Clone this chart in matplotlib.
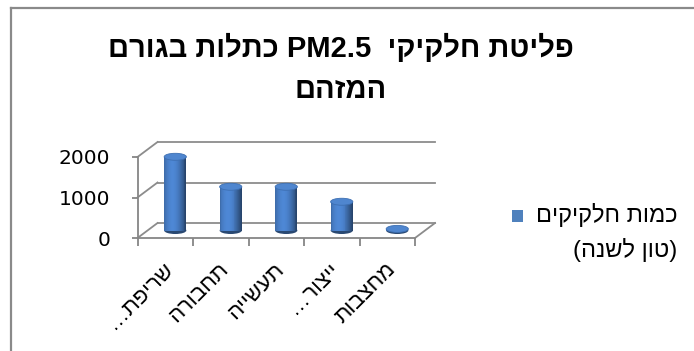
import re
import numpy as np
import matplotlib
matplotlib.use("Agg")
import matplotlib.pyplot as plt
from matplotlib.patches import Ellipse, Rectangle
from matplotlib.lines import Line2D

plt.rcParams['font.family'] = ['Liberation Sans', 'DejaVu Sans']

# ---- data ----
categories = ["שריפת…", "תחבורה", "תעשייה", "ייצור…", "מחצבות"]
values = [1820, 1080, 1080, 710, 40]
yticks = [0, 1000, 2000]
title_lines = ["פליטת חלקיקי  PM2.5 כתלות בגורם", "המזהם"]
legend_lines = ["כמות חלקיקים", "(טון לשנה)"]

MIRROR = str.maketrans('()[]', ')(][')


def visual(s):
    """Simple bidi: convert logical RTL text into visual left-to-right order."""
    runs = re.findall(r'[A-Za-z0-9][A-Za-z0-9.]*|[^A-Za-z0-9]+', s)
    out = []
    for r in reversed(runs):
        if re.match(r'[A-Za-z0-9]', r):
            out.append(r)
        else:
            out.append(r[::-1].translate(MIRROR))
    return ''.join(out)


W, H = 694, 351
fig = plt.figure(figsize=(W / 100, H / 100), dpi=100)
fig.patch.set_facecolor('white')

# outer chart border (left & top visible)
fig.add_artist(Line2D([10.5 / W, 10.5 / W], [0, 1 - 7.5 / H], color='#8a8a8a', lw=1.6,
                      transform=fig.transFigure))
fig.add_artist(Line2D([10.5 / W, 1], [1 - 7.5 / H, 1 - 7.5 / H], color='#8a8a8a', lw=1.6,
                      transform=fig.transFigure))

# front plane axes
ax = fig.add_axes([137.5 / W, (H - 238) / H, 277.5 / W, 81 / H])
n = len(categories)
ax.set_xlim(0, n)
ax.set_ylim(0, 2000)
for s in ['top', 'right']:
    ax.spines[s].set_visible(False)
ax.spines['left'].set_color('#868686')
ax.spines['bottom'].set_color('#868686')
ax.spines['left'].set_linewidth(1.3)
ax.spines['bottom'].set_linewidth(1.3)
ax.set_xticks(np.arange(n + 1))
ax.set_xticklabels([])
ax.set_yticks(yticks)
ax.set_yticklabels([str(v) for v in yticks], fontsize=14.5, family='DejaVu Sans')
ax.tick_params(axis='x', length=6, width=1.3, color='#868686')
ax.tick_params(axis='y', length=4, width=1.3, color='#868686', pad=15.5)
ax.patch.set_alpha(0)

gc = '#8c8c8c'
dx = 20 / 55.5
dy = 370.0
# back wall gridlines + side wall diagonals
for v in yticks:
    ax.plot([dx, n + dx], [v + dy, v + dy], color=gc, lw=1.3, clip_on=False, zorder=1)
    ax.plot([0, dx], [v, v + dy], color=gc, lw=1.3, clip_on=False, zorder=1)
# floor right edge
ax.plot([n, n + dx], [0, dy], color=gc, lw=1.3, clip_on=False, zorder=1)

# cylinders
bw = 0.40
eh = 173
base = dy / 2
nstripes = 24
edges = np.linspace(-1, 1, nstripes + 1)
mids = (edges[:-1] + edges[1:]) / 2
basec = np.array([70, 122, 192]) / 255


def shade(t):
    f = np.cos((t + 0.25) * np.pi / 2.4)
    f = max(f, 0)
    return np.clip(basec * (0.56 + 0.55 * f), 0, 1)


for i, v in enumerate(values):
    cx = i + 0.5 + dx / 2
    ax.add_patch(Ellipse((cx, base), bw, eh, facecolor=shade(0.9), edgecolor='none',
                         clip_on=False, zorder=3))
    for t in mids:
        ax.bar(cx + t * bw / 2, v, width=bw / nstripes * 1.05, bottom=base, color=shade(t),
               linewidth=0, clip_on=False, zorder=4)
    ax.add_patch(Ellipse((cx, base + v), bw, eh, facecolor='#4f86cf', edgecolor='#3d6fb2',
                         lw=0.6, clip_on=False, zorder=5))

# category labels
for i, c in enumerate(categories):
    ax.text(i + 0.45, -520, visual(c), rotation=45, ha='right', va='top',
            rotation_mode='anchor', fontsize=16, clip_on=False)

# title
fig.text(341 / W, 1 - 48 / H, visual(title_lines[0]), ha='center', va='center',
         fontsize=21, fontweight='bold')
fig.text(341 / W, 1 - 90 / H, visual(title_lines[1]), ha='center', va='center',
         fontsize=21, fontweight='bold')

# legend
fig.add_artist(Rectangle((512 / W, 1 - 222 / H), 11 / W, 12 / H, facecolor='#4F81BD',
                         edgecolor='none', transform=fig.transFigure))
fig.text(677 / W, 1 - 215 / H, visual(legend_lines[0]), ha='right', va='center', fontsize=17)
fig.text(677 / W, 1 - 250 / H, visual(legend_lines[1]), ha='right', va='center', fontsize=17)

fig.savefig('out.png', dpi=100)
